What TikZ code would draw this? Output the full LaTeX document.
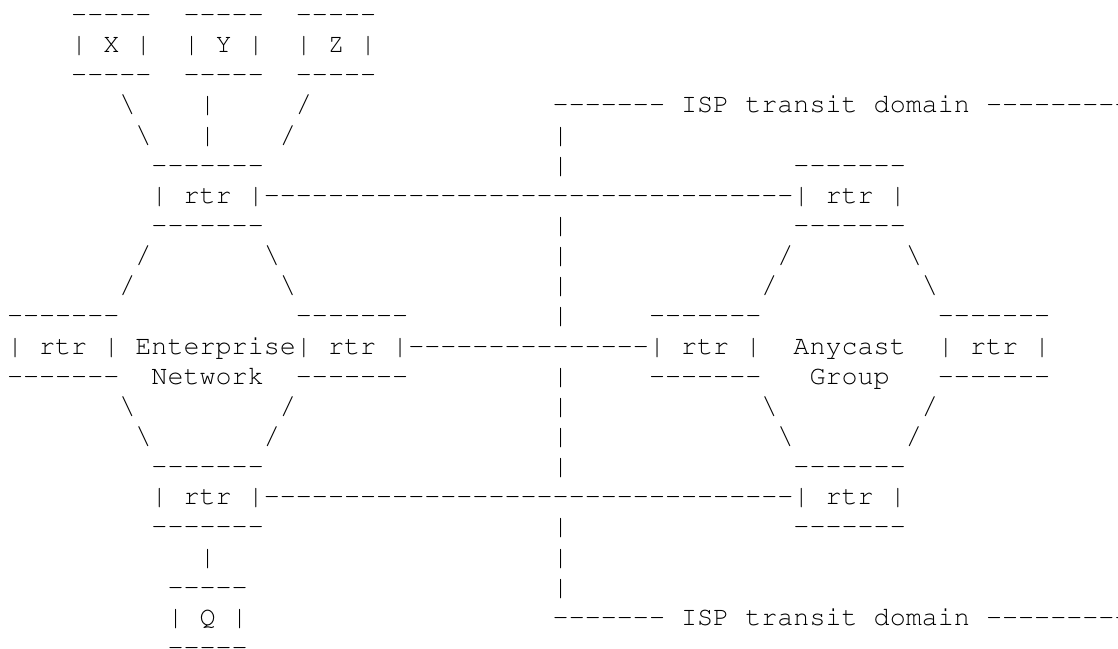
\documentclass[tikz,border=0pt]{standalone}
\usepackage[T1]{fontenc}
\usepackage{courier}
% one character cell: 16.05pt wide, 30.15pt high; column 0 starts at x=7pt
\newcommand\artcell[4]{\node[art] (#3) at ({7+16.05*(#1)},{-22.4-30.15*((#2)-1)}) {#4};}
\newcommand\bs{\textbackslash}
% a run of separate hyphens (no dash ligatures)
\newcommand\dashrun[1]{\foreach\k in {1,...,#1}{-}}
\tikzset{
  art/.style={anchor=base west, inner sep=0pt, outer sep=0pt, text=black,
              font=\fontsize{26.75pt}{30.15pt}\ttfamily\selectfont}
}
\begin{document}
\begin{tikzpicture}[x=1pt,y=1pt]
\useasboundingbox (0,0) rectangle (1118,-648);
% hosts X, Y, Z
\artcell{4}{1}{xtop}{\dashrun{5}}
\artcell{11}{1}{ytop}{\dashrun{5}}
\artcell{18}{1}{ztop}{\dashrun{5}}
\artcell{4}{2}{xbox}{| X |}
\artcell{11}{2}{ybox}{| Y |}
\artcell{18}{2}{zbox}{| Z |}
\artcell{4}{3}{xbot}{\dashrun{5}}
\artcell{11}{3}{ybot}{\dashrun{5}}
\artcell{18}{3}{zbot}{\dashrun{5}}
% host links and upper ISP boundary
\artcell{7}{4}{xlinka}{\bs}
\artcell{12}{4}{ylinka}{|}
\artcell{18}{4}{zlinka}{/}
\artcell{34}{4}{isptop}{\dashrun{7} ISP transit domain \dashrun{9}}
\artcell{8}{5}{xlinkb}{\bs}
\artcell{12}{5}{ylinkb}{|}
\artcell{17}{5}{zlinkb}{/}
\artcell{34}{5}{ispva}{|}
% top routers
\artcell{9}{6}{ertop}{\dashrun{7}}
\artcell{34}{6}{ispvb}{|}
\artcell{49}{6}{artop}{\dashrun{7}}
\artcell{9}{7}{ertbox}{| rtr |}
\artcell{16}{7}{toplink}{\dashrun{33}}
\artcell{49}{7}{artbox}{| rtr |}
\artcell{9}{8}{ertbot}{\dashrun{7}}
\artcell{34}{8}{ispvc}{|}
\artcell{49}{8}{artbot}{\dashrun{7}}
% upper hexagon edges
\artcell{8}{9}{eula}{/}
\artcell{16}{9}{eura}{\bs}
\artcell{34}{9}{ispvd}{|}
\artcell{48}{9}{aula}{/}
\artcell{56}{9}{aura}{\bs}
\artcell{7}{10}{eulb}{/}
\artcell{17}{10}{eurb}{\bs}
\artcell{34}{10}{ispve}{|}
\artcell{47}{10}{aulb}{/}
\artcell{57}{10}{aurb}{\bs}
% middle routers
\artcell{0}{11}{elltop}{\dashrun{7}}
\artcell{18}{11}{ertrtop}{\dashrun{7}}
\artcell{34}{11}{ispvf}{|}
\artcell{40}{11}{alltop}{\dashrun{7}}
\artcell{58}{11}{artrtop}{\dashrun{7}}
\artcell{0}{12}{ellbox}{| rtr |}
\artcell{8}{12}{entlabel}{Enterprise}
\artcell{18}{12}{ertrbox}{| rtr |}
\artcell{25}{12}{midlink}{\dashrun{15}}
\artcell{40}{12}{allbox}{| rtr |}
\artcell{49}{12}{anylabel}{Anycast}
\artcell{58}{12}{artrbox}{| rtr |}
\artcell{0}{13}{ellbot}{\dashrun{7}}
\artcell{9}{13}{netlabel}{Network}
\artcell{18}{13}{ertrbot}{\dashrun{7}}
\artcell{34}{13}{ispvg}{|}
\artcell{40}{13}{allbot}{\dashrun{7}}
\artcell{50}{13}{grplabel}{Group}
\artcell{58}{13}{artrbot}{\dashrun{7}}
% lower hexagon edges
\artcell{7}{14}{ella}{\bs}
\artcell{17}{14}{elra}{/}
\artcell{34}{14}{ispvh}{|}
\artcell{47}{14}{alla}{\bs}
\artcell{57}{14}{alra}{/}
\artcell{8}{15}{ellb}{\bs}
\artcell{16}{15}{elrb}{/}
\artcell{34}{15}{ispvi}{|}
\artcell{48}{15}{allb}{\bs}
\artcell{56}{15}{alrb}{/}
% bottom routers
\artcell{9}{16}{ebtop}{\dashrun{7}}
\artcell{34}{16}{ispvj}{|}
\artcell{49}{16}{abtop}{\dashrun{7}}
\artcell{9}{17}{ebbox}{| rtr |}
\artcell{16}{17}{botlink}{\dashrun{33}}
\artcell{49}{17}{abbox}{| rtr |}
\artcell{9}{18}{ebbot}{\dashrun{7}}
\artcell{34}{18}{ispvk}{|}
\artcell{49}{18}{abbot}{\dashrun{7}}
% host Q and lower ISP boundary
\artcell{12}{19}{qlink}{|}
\artcell{34}{19}{ispvl}{|}
\artcell{10}{20}{qtop}{\dashrun{5}}
\artcell{34}{20}{ispvm}{|}
\artcell{10}{21}{qbox}{| Q |}
\artcell{34}{21}{ispbot}{\dashrun{7} ISP transit domain \dashrun{9}}
\artcell{10}{22}{qbot}{\dashrun{5}}
\end{tikzpicture}
\end{document}
